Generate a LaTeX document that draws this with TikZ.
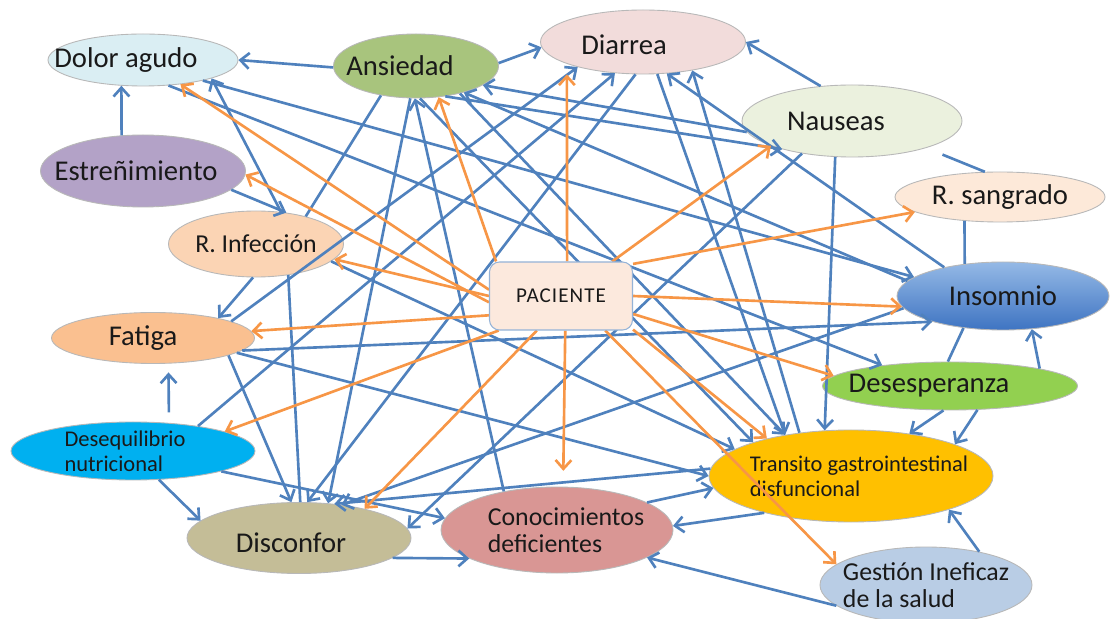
\documentclass[tikz,border=0pt]{standalone}
\usepackage{fontspec}
\setmainfont{Carlito}
\usepackage{tikz}
\usetikzlibrary{shapes,arrows.meta,positioning}
\usepackage{xcolor}

\definecolor{linkblue}{HTML}{4F81BD}
\definecolor{causeorange}{HTML}{F79646}
\definecolor{dolorfill}{HTML}{DAEEF3}
\definecolor{ansfill}{HTML}{A8C47D}
\definecolor{diarfill}{HTML}{F2DCDB}
\definecolor{nausfill}{HTML}{EBF1DE}
\definecolor{sangfill}{HTML}{FDE9D9}
\definecolor{insomtop}{HTML}{95B9E6}
\definecolor{insombot}{HTML}{3E74C2}
\definecolor{desespfill}{HTML}{92D050}
\definecolor{transfill}{HTML}{FFC000}
\definecolor{gestfill}{HTML}{B9CDE5}
\definecolor{conocfill}{HTML}{D99694}
\definecolor{disconfill}{HTML}{C4BD97}
\definecolor{deseqfill}{HTML}{00B0F0}
\definecolor{fatigafill}{HTML}{FAC090}
\definecolor{rinffill}{HTML}{FBD4B4}
\definecolor{estrfill}{HTML}{B3A2C7}
\definecolor{pacfill}{HTML}{FCE9DD}
\definecolor{pacline}{HTML}{95B3D7}

\pgfdeclarelayer{front}
\pgfsetlayers{main,front}

\begin{document}
\begin{tikzpicture}[
    x=0.2mm, y=-0.2mm,
    every node/.style={text=black!90},
    bubble/.style={
        ellipse,
        draw=black!28,
        line width=0.5pt,
        inner sep=0pt
    },
    big/.style={font=\fontsize{16.3}{19}\selectfont},
    mid/.style={font=\fontsize{14.7}{15.4}\selectfont, align=left},
    small/.style={font=\fontsize{12.8}{14.2}\selectfont, align=left},
    link/.style={line width=1.5pt, draw=linkblue, -{Straight Barb[length=5pt,width=9pt]}},
    bare/.style={line width=1.5pt, draw=linkblue},
    cause/.style={line width=1.5pt, draw=causeorange, -{Straight Barb[length=5pt,width=9pt]}}
]

\path[use as bounding box, fill=white] (0,0) rectangle (1110,619);

% Nursing diagnoses around the patient
\node[bubble, fill=dolorfill, minimum width=38mm, minimum height=10.4mm,
      label={[big, xshift=-3.4mm]center:Dolor agudo}] (dolor) at (143,60) {};
\node[bubble, fill=ansfill, minimum width=33mm, minimum height=12.8mm,
      label={[big, xshift=-3.2mm]center:Ansiedad}] (ans) at (416,66) {};
\node[bubble, fill=diarfill, minimum width=41mm, minimum height=12.8mm,
      label={[big, xshift=-3.8mm, yshift=-0.5mm]center:Diarrea}] (diar) at (643,42) {};
\node[bubble, fill=nausfill, minimum width=44mm, minimum height=14.4mm,
      label={[big, xshift=-3.2mm]center:Nauseas}] (naus) at (852,121) {};
\node[bubble, fill=sangfill, minimum width=42mm, minimum height=10mm,
      label={[big]center:R. sangrado}] (sang) at (1000,197) {};
\node[bubble, top color=insomtop, bottom color=insombot, minimum width=42.4mm, minimum height=13.6mm,
      label={[big]center:Insomnio}] (insom) at (1003,296) {};
\node[bubble, fill=desespfill, minimum width=51mm, minimum height=9.6mm,
      label={[big, xshift=-4.2mm]center:Desesperanza}] (desesp) at (950,386) {};
\node[bubble, fill=transfill, minimum width=56.8mm, minimum height=18.4mm,
      label={[small, xshift=1.6mm]center:{Transito gastrointestinal\\disfuncional}}] (trans) at (851,476) {};
\node[bubble, fill=gestfill, minimum width=42.4mm, minimum height=15.2mm,
      label={[mid]center:{Gestión Ineficaz\\de la salud}}] (gest) at (926,585) {};
\node[bubble, fill=conocfill, minimum width=46.4mm, minimum height=17.2mm,
      label={[mid, xshift=1.8mm]center:{Conocimientos\\deficientes}}] (conoc) at (557,530) {};
\node[bubble, fill=disconfill, minimum width=44.8mm, minimum height=14.2mm,
      label={[big, xshift=-1.6mm, yshift=-1mm]center:Disconfor}] (discon) at (299,538) {};
\node[bubble, fill=deseqfill, minimum width=48.8mm, minimum height=11.6mm,
      label={[small, xshift=-1.6mm]center:{Desequilibrio\\nutricional}}] (deseq) at (133,451) {};
\node[bubble, fill=fatigafill, minimum width=40.6mm, minimum height=10.2mm,
      label={[big, xshift=-2mm]center:Fatiga}] (fatiga) at (153,338) {};
\node[bubble, fill=rinffill, minimum width=35mm, minimum height=13.2mm,
      label={[mid]center:R. Infección}] (rinf) at (256,244) {};
\node[bubble, fill=estrfill, minimum width=41mm, minimum height=14.4mm,
      label={[big, xshift=-1.4mm]center:Estreñimiento}] (estr) at (143,171) {};

% Patient box sits over the lines
\begin{pgfonlayer}{front}
\node[rectangle, rounded corners=2mm, draw=pacline, line width=0.6pt, fill=pacfill,
      minimum width=28.6mm, minimum height=13.6mm,
      font=\fontsize{12}{14}\selectfont\addfontfeatures{LetterSpace=5}] (pac) at (561,296) {PACIENTE};
\end{pgfonlayer}

% Relations between diagnoses
\draw[link] (ans.181) -- (dolor.0);
\draw[link] (estr.121) -- (dolor.230);
\draw[link] (ans.2) -- (diar.183);
\draw[link] (naus.132) -- (diar.0);
\draw[bare, shorten <=10pt] (naus.340) -- (sang.121);
\draw[bare] (sang.214) -- (insom.140);
\draw[link, shorten <=6pt, shorten >=5pt] (deseq.38) -- (fatiga.301);
\draw[link] (deseq.312) -- (discon.170);
\draw[link] (discon.348) -- (conoc.198);
\draw[link] (desesp.11) -- (insom.311);
\draw[bare] (insom.219) -- (desesp.95);
\draw[link] (desesp.255) -- (trans.36);
\draw[link] (desesp.319) -- (trans.17);
\draw[link] (gest.32) -- (trans.341);
\draw[link] (gest.193) -- (conoc.343);
\draw[link] (trans.203) -- (conoc.2);
\draw[link] (conoc.17) -- (trans.185);
\draw[link] (fatiga.350) -- (trans.180);
\draw[link] (trans.177) -- (discon.44);
\draw[link] (estr.348) -- (rinf.46);
\draw[link] (rinf.52) -- (dolor.345);
\draw[link] (dolor.315) -- (desesp.163);
\draw[link] (dolor.341) -- (insom.168);
\draw[link] (fatiga.347) -- (discon.102);
\draw[link] (diar.257) -- (discon.77);
\draw[link] (ans.260) -- (discon.50);
\draw[link] (conoc.144) -- (ans.268);
\draw[link] (insom.187) -- (discon.38);
\draw[link] (naus.213) -- (discon.5);
\draw[link] (fatiga.12) -- (diar.201);
\draw[link] (deseq.21) -- (diar.228);
\draw[link] (diar.294) -- (trans.148);
\draw[link] (trans.140) -- (diar.330);
\draw[link] (insom.154) -- (diar.307);
\draw[link] (naus.186) -- (ans.344);
\draw[link] (insom.171) -- (ans.331);
\draw[link] (fatiga.352) -- (insom.200);
\draw[link] (ans.314) -- (naus.202);
\draw[link] (rinf.265) -- (fatiga.17);
\draw[bare] (rinf.316) -- (discon.88);
\draw[link] (naus.245) -- (trans.120);
\draw[link] (ans.277) -- (trans.161);
\draw[bare] (ans.220) -- (rinf.29);
\draw[link] (rinf.347) -- (trans.167);
\draw[link] (ans.328) -- (trans.148);
\draw[link] (deseq.347) -- (conoc.174);

% Patient to every diagnosis
\draw[cause] (pac.175) -- (dolor.327);
\draw[cause] (pac.185) -- (estr.358);
\draw[cause] (pac.180) -- (rinf.349);
\draw[cause] (pac.195) -- (fatiga.4);
\draw[cause] (pac.209) -- (deseq.12);
\draw[cause] (pac.235) -- (discon.24);
\draw[cause, shorten >=9pt] (pac.277) -- (conoc.82);
\draw[cause] (pac.322) -- (gest.167);
\draw[cause] (pac.335) -- (trans.156);
\draw[cause] (pac.346) -- (desesp.175);
\draw[cause] (pac.0) -- (insom.186);
\draw[cause] (pac.24) -- (sang.190);
\draw[cause] (pac.34) -- (naus.197);
\draw[cause, shorten >=6pt] (pac.80) -- (diar.196);
\draw[cause] (pac.152) -- (ans.306);

\end{tikzpicture}
\end{document}
